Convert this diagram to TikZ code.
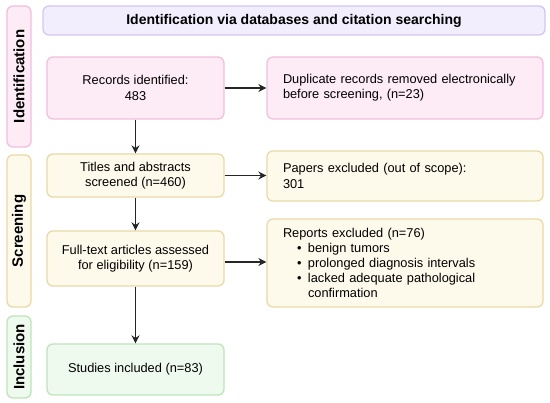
\documentclass[tikz,border=0pt]{standalone}
\usepackage{fontspec}
\setmainfont{Liberation Sans}
\usepackage{xcolor}
\usetikzlibrary{arrows.meta}

\definecolor{idfill}{HTML}{FDEBF6}
\definecolor{idline}{HTML}{F2BFDC}
\definecolor{hdfill}{HTML}{F2EEFD}
\definecolor{hdline}{HTML}{D4C6F2}
\definecolor{scfill}{HTML}{FDFAEC}
\definecolor{scline}{HTML}{E9D9A6}
\definecolor{infill}{HTML}{EFFAEE}
\definecolor{inline}{HTML}{BFE3BC}

\newcommand{\bulletline}[1]{\hspace*{14pt}\makebox[11pt][l]{•}#1}

\begin{document}
\begin{tikzpicture}[x=1pt, y=-1pt,
	every node/.style={rounded corners=6pt, line width=1.3pt, inner sep=0pt,
		font=\fontsize{12.8}{15.2}\selectfont},
	sidebox/.style={draw, minimum height=24pt, rotate=90,
		font=\fontsize{15}{18}\selectfont\bfseries},
	leftbox/.style={draw, minimum width=177pt, align=center},
	rightbox/.style={draw, text width=244pt, inner xsep=16pt, align=left},
	arr/.style={-{Stealth[length=8pt,width=8pt]}, line width=1.6pt, draw=black!85}]
	\useasboundingbox (0,0) rectangle (550,403);
	% stage labels
	\node[sidebox, fill=idfill, draw=idline, minimum width=141pt] (sideid) at (19, 76.5) {Identification};
	\node[sidebox, fill=scfill, draw=scline, minimum width=152pt] (sidescr) at (19, 231) {Screening};
	\node[sidebox, fill=infill, draw=inline, minimum width=82pt] (sideinc) at (19, 357) {Inclusion};
	% header
	\node[draw, fill=hdfill, draw=hdline, minimum width=502pt, minimum height=29pt,
		font=\fontsize{14}{17}\selectfont\bfseries] (head) at (294, 20.5) {Identification via databases and citation searching};
	% main flow
	\node[leftbox, fill=idfill, draw=idline, minimum height=62pt] (rec) at (135.5, 88) {Records identified:\\483};
	\node[leftbox, fill=scfill, draw=scline, minimum height=43pt] (tit) at (135.5, 175.5) {Titles and abstracts\\screened (n=460)};
	\node[leftbox, fill=scfill, draw=scline, minimum height=55pt] (full) at (135.5, 258.5) {Full-text articles assessed\\for eligibility (n=159)};
	\node[leftbox, fill=infill, draw=inline, minimum height=51pt] (stud) at (135.5, 369.5) {Studies included (n=83)};
	% exclusions
	\node[rightbox, fill=idfill, draw=idline, minimum height=62pt] (dup) at (405, 88) {Duplicate records removed electronically\\before screening, (n=23)};
	\node[rightbox, fill=scfill, draw=scline, minimum height=50pt] (pap) at (405, 176) {Papers excluded (out of scope):\\301};
	\node[rightbox, fill=scfill, draw=scline, minimum height=88pt] (rep) at (405, 263) {Reports excluded (n=76)\\
		\bulletline{benign tumors}\\
		\bulletline{prolonged diagnosis intervals}\\
		\bulletline{lacked adequate pathological}\\
		\hspace*{25pt}confirmation};
	% arrows
	\draw[arr] (rec) -- (tit);
	\draw[arr] (tit) -- (full);
	\draw[arr] (full) -- (stud);
	\draw[arr] (rec) -- (dup);
	\draw[arr] (tit) -- (tit -| pap.west);
	\draw[arr] (full.east |- 0,262) -- (rep.west |- 0,262);
\end{tikzpicture}
\end{document}
